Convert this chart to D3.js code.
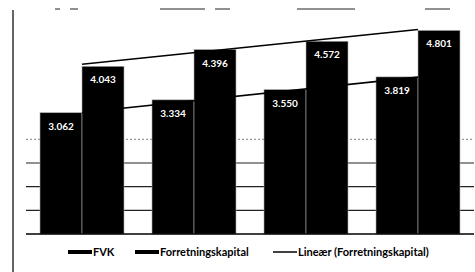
<!DOCTYPE html>
<html>
<head>
<meta charset="utf-8">
<script src="https://cdn.jsdelivr.net/npm/d3@7"></script>
<style>
  body { margin: 0; background: #fff; }
  text { font-family: Lato, "Open Sans", sans-serif; font-weight: bold; }
</style>
</head>
<body>
<script>
const width = 475;
const height = 272;

const years = ['1', '2', '3', '4'];
const fvk = [3.062, 3.334, 3.550, 3.819];
const forretningskapital = [4.043, 4.396, 4.572, 4.801];
const gridValues = [1.0, 1.5, 2.0, 2.5];
const seriesNames = ['FVK', 'Forretningskapital'];

function main() {
  const svg = d3.select('body').append('svg')
    .attr('width', width).attr('height', height);

  const plot = { left: 26, right: 474, top: 21, bottom: 234 };

  const x0 = d3.scaleBand().domain(years)
    .range([plot.left, plot.right])
    .paddingInner(0.25).paddingOuter(0.125);
  const x1 = d3.scaleBand().domain(seriesNames).range([0, x0.bandwidth()]);
  const y = d3.scaleLinear().domain([0.5, 5]).range([plot.bottom, plot.top]);

  // chart border (scan leaves only bits of the top edge)
  svg.append('line')
    .attr('x1', 13).attr('x2', 13).attr('y1', 10).attr('y2', height)
    .attr('stroke', '#111').attr('stroke-width', 1.3);
  svg.append('line')
    .attr('x1', 55).attr('x2', 475).attr('y1', 9).attr('y2', 9)
    .attr('stroke', '#222').attr('stroke-width', 1.2)
    .attr('stroke-dasharray', '5 10 8 82 45 10 15 67 58 70 25 40');

  // gridlines
  svg.append('g')
    .selectAll('line')
    .data(gridValues)
    .join('line')
    .attr('x1', plot.left).attr('x2', plot.right)
    .attr('y1', d => y(d)).attr('y2', d => y(d))
    .attr('stroke', (d, i) => i === gridValues.length - 1 ? '#999' : '#222')
    .attr('stroke-dasharray', (d, i) => i === gridValues.length - 1 ? '2 2' : null)
    .attr('stroke-width', 1.2);

  const rows = years.map((yr, i) => ({ yr, values: [fvk[i], forretningskapital[i]] }));

  const groups = svg.append('g')
    .selectAll('g')
    .data(rows)
    .join('g')
    .attr('transform', d => `translate(${x0(d.yr)},0)`);

  groups.selectAll('rect')
    .data(d => d.values.map((v, j) => ({ key: seriesNames[j], v })))
    .join('rect')
    .attr('x', d => x1(d.key))
    .attr('width', x1.bandwidth())
    .attr('y', d => y(d.v))
    .attr('height', d => y(0.5) - y(d.v))
    .attr('fill', '#000')
    .attr('stroke', '#aaa')
    .attr('stroke-width', 0.6);

  groups.selectAll('text')
    .data(d => d.values.map((v, j) => ({ key: seriesNames[j], v })))
    .join('text')
    .attr('x', d => x1(d.key) + x1.bandwidth() / 2)
    .attr('y', d => y(d.v) + 17)
    .attr('text-anchor', 'middle')
    .attr('fill', '#fff')
    .attr('font-size', 10)
    .text(d => d3.format('.3f')(d.v));

  // baseline
  svg.append('line')
    .attr('x1', plot.left).attr('x2', plot.right)
    .attr('y1', y(0.5)).attr('y2', y(0.5))
    .attr('stroke', '#000').attr('stroke-width', 1.5);

  // linear trendlines, least squares over category index
  const trend = vals => {
    const n = vals.length;
    const xs = vals.map((_, i) => i + 1);
    const mx = d3.mean(xs), my = d3.mean(vals);
    const b = d3.sum(xs, (xv, i) => (xv - mx) * (vals[i] - my)) / d3.sum(xs, xv => (xv - mx) ** 2);
    const a = my - b * mx;
    return [[1, a + b], [n, a + b * n]];
  };
  const center = i => x0(years[i - 1]) + x0.bandwidth() / 2;

  [fvk, forretningskapital].forEach(vals => {
    const pts = trend(vals);
    svg.append('line')
      .attr('x1', center(pts[0][0])).attr('y1', y(pts[0][1]))
      .attr('x2', center(pts[1][0])).attr('y2', y(pts[1][1]))
      .attr('stroke', '#000').attr('stroke-width', 1.6);
  });

  // legend
  const legendY = 252;
  const legend = svg.append('g');
  const items = [
    { label: 'FVK', x: 68, type: 'rect' },
    { label: 'Forretningskapital', x: 135, type: 'rect' },
    { label: 'Lineær (Forretningskapital)', x: 273, type: 'line' }
  ];
  items.forEach(it => {
    if (it.type === 'rect') {
      legend.append('rect')
        .attr('x', it.x).attr('y', legendY - 2)
        .attr('width', 24).attr('height', 4).attr('fill', '#000');
    } else {
      legend.append('line')
        .attr('x1', it.x).attr('x2', it.x + 24)
        .attr('y1', legendY).attr('y2', legendY)
        .attr('stroke', '#000').attr('stroke-width', 1.5);
    }
    legend.append('text')
      .attr('x', it.x + 25).attr('y', legendY + 4)
      .attr('font-size', 11)
      .attr('fill', '#000')
      .text(it.label);
  });
}

main();
</script>
</body>
</html>
